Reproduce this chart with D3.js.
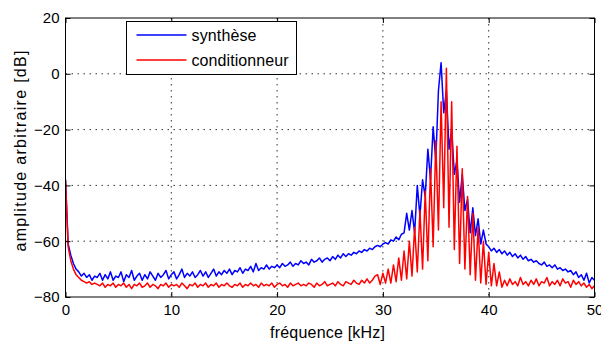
<!DOCTYPE html>
<html>
<head>
<meta charset="utf-8">
<script src="https://cdn.jsdelivr.net/npm/d3@7"></script>
<style>
  html, body { margin: 0; padding: 0; background: #fff; }
  svg { display: block; font-family: "Liberation Sans", Arial, sans-serif; }
</style>
</head>
<body>
<svg id="chart" width="601" height="342"></svg>
<script>
// ---- data (frequency step 0.25 kHz from 0 to 50 kHz) ----
const freqStep = 0.25;
const xTicks = [0, 10, 20, 30, 40, 50];
const yTicks = [-80, -60, -40, -20, 0, 20];
const seriesNames = ["synthèse", "conditionneur"];
const seriesColors = ["#0000ff", "#ff0000"];

const synthese = [
  -38, -61, -65, -68, -70, -71, -72.5, -71.5, -73, -72,
  -74, -72.5, -73, -71.5, -74, -72, -73.5, -71, -74, -72.5,
  -73, -71, -74.5, -72, -73, -70.5, -74, -72.5, -71.5, -74,
  -72, -73.5, -71, -72.5, -74, -71.5, -73, -72, -70.5, -73.5,
  -72, -71, -73.5, -72, -70, -73, -71.5, -72.5, -71, -73,
  -72, -70.5, -72.5, -71, -73, -71.5, -70, -72.5, -71, -72,
  -70.5, -71.5, -70, -72, -70.5, -71, -69.5, -71.5, -70, -70.5,
  -69, -71, -68, -70.5, -69.5, -70, -68.5, -70, -69, -69.5,
  -68.5, -69.5, -68, -69, -68.5, -67.5, -69, -68, -68.5, -67,
  -68, -67.5, -68.5, -66.5, -67.5, -67, -66, -67.5, -66.5, -66,
  -67, -65.5, -66.5, -65, -66, -64.5, -65.5, -64.5, -65, -64,
  -64.5, -63.5, -64, -63, -63.5, -62.5, -63, -62, -61.5, -62,
  -61, -60.5, -61, -59.5, -60, -58.5, -59.5, -57.5, -57, -50,
  -56, -49, -57, -40, -51, -38, -44, -27, -38, -19,
  -31, -6, 4, -14, -6, -27, -20, -36, -31, -46,
  -36, -49, -45, -57, -48, -58, -52, -61, -56, -61,
  -62, -63.5, -62.5, -64, -63, -64.5, -63.5, -65, -64, -65.5,
  -64.5, -66, -65, -66.5, -65.5, -67, -66.5, -67.5, -67, -68,
  -68.5, -67.5, -69, -68.5, -69.5, -68.5, -70, -69.5, -70.5, -70,
  -71, -70.5, -72, -71, -73, -72, -74, -71.5, -75, -73,
  -74
];

const conditionneur = [
  -38, -62, -67, -70, -72, -73, -74, -74.5, -75, -74.5,
  -75.5, -75, -75.5, -76, -75, -76.5, -75.5, -76, -75, -76.5,
  -75.5, -76, -75, -76.5, -75.5, -77, -75.5, -76, -75, -76.5,
  -76, -75, -76.5, -75.5, -76, -77, -75.5, -76, -75, -76.5,
  -75.5, -76, -75.5, -76.5, -75, -76, -77, -75.5, -76, -75,
  -76.5, -75.5, -76, -75, -76.5, -75.5, -76, -75, -76.5, -75.5,
  -76, -75, -76, -76.5, -75.5, -76, -75, -76.5, -75.5, -76,
  -75, -76, -75.5, -76.5, -75, -76, -75.5, -76, -75, -76.5,
  -75.5, -75, -76, -75.5, -76.5, -75, -76, -75.5, -75, -76,
  -75.5, -76, -75, -75.5, -76.5, -75, -76, -75.5, -74.5, -76,
  -75.5, -75, -76, -74.5, -75.5, -76, -74.5, -75, -75.5, -74,
  -75, -75.5, -74, -75, -73.5, -75, -74, -72.5, -72, -75.5,
  -71.5, -75, -70, -75, -68.5, -74.5, -66, -74, -63.5, -73.5,
  -60, -72.5, -55, -71, -49, -70, -42, -67, -34, -62,
  -24, -56, -10, -48, 2, -55, -10, -63, -26, -68,
  -34, -70, -44, -72, -50, -74, -55, -75, -60, -75.5,
  -64, -76, -68, -76, -71, -76.5, -74, -76, -73.5, -75.5,
  -74.5, -76, -73, -75.5, -74.5, -76, -74, -75.5, -73.5, -76,
  -74.5, -75, -73, -76, -74.5, -75.5, -74, -76, -73.5, -75,
  -74.5, -76.5, -74, -75.5, -74.5, -76, -75, -76.5, -75.5, -77,
  -76
];

// ---- layout ----
const svg = d3.select("#chart");
const pLeft = 65.5, pRight = 594.5, pTop = 18, pBottom = 297;
const x = d3.scaleLinear().domain([0, 50]).range([pLeft, pRight]);
const y = d3.scaleLinear().domain([-80, 20]).range([pBottom, pTop]);
const font = 15;

// grid
const grid = svg.append("g").attr("stroke", "#333").attr("stroke-width", 1)
  .attr("stroke-dasharray", "1.5,4.5").attr("fill", "none");
xTicks.filter(t => t > 0 && t < 50).forEach(t => {
  grid.append("line").attr("x1", x(t)).attr("x2", x(t)).attr("y1", pTop).attr("y2", pBottom);
});
yTicks.filter(t => t > -80 && t < 20).forEach(t => {
  grid.append("line").attr("x1", pLeft).attr("x2", pRight).attr("y1", y(t)).attr("y2", y(t));
});

// lines
svg.append("clipPath").attr("id", "clip").append("rect")
  .attr("x", pLeft).attr("y", pTop).attr("width", pRight - pLeft).attr("height", pBottom - pTop);
const line = d3.line().x((d, i) => x(i * freqStep)).y(d => y(d));
[synthese, conditionneur].forEach((s, k) => {
  svg.append("path").datum(s)
    .attr("clip-path", "url(#clip)")
    .attr("fill", "none").attr("stroke", seriesColors[k])
    .attr("stroke-width", 1.5).attr("stroke-linejoin", "round")
    .attr("d", line);
});

// axes
const xAxisB = d3.axisBottom(x).tickValues(xTicks).tickSizeInner(-5).tickSizeOuter(0).tickPadding(7.5);
const xAxisT = d3.axisTop(x).tickValues(xTicks).tickSizeInner(-5).tickSizeOuter(0).tickFormat("");
const yAxisL = d3.axisLeft(y).tickValues(yTicks).tickSizeInner(-5).tickSizeOuter(0).tickPadding(6);
const yAxisR = d3.axisRight(y).tickValues(yTicks).tickSizeInner(-5).tickSizeOuter(0).tickFormat("");

function style(g) {
  g.selectAll(".domain").remove();
  g.selectAll(".tick line").attr("stroke", "#000");
  g.selectAll("text").attr("font-size", font).attr("fill", "#000")
    .attr("font-family", '"Liberation Sans", Arial, sans-serif');
}
svg.append("g").attr("transform", `translate(0,${pBottom})`).call(xAxisB).call(style);
svg.append("g").attr("transform", `translate(0,${pTop})`).call(xAxisT).call(style);
svg.append("g").attr("transform", `translate(${pLeft},0)`).call(yAxisL).call(style);
svg.append("g").attr("transform", `translate(${pRight},0)`).call(yAxisR).call(style);

// frame
svg.append("rect").attr("x", pLeft).attr("y", pTop).attr("width", pRight - pLeft).attr("height", pBottom - pTop)
  .attr("fill", "none").attr("stroke", "#000").attr("stroke-width", 1);

// axis labels
svg.append("text").attr("x", 327.5).attr("y", 338).attr("text-anchor", "middle")
  .attr("font-size", 16).attr("textLength", 115).attr("lengthAdjust", "spacing")
  .text("fréquence [kHz]");
svg.append("text").attr("transform", "translate(26,151) rotate(-90)").attr("text-anchor", "middle")
  .attr("font-size", 16).attr("textLength", 201).attr("lengthAdjust", "spacing")
  .text("amplitude arbitraire [dB]");

// legend
const lg = svg.append("g");
lg.append("rect").attr("x", 126.5).attr("y", 21.5).attr("width", 170).attr("height", 53)
  .attr("fill", "#fff").attr("stroke", "#000").attr("stroke-width", 1);
const legendWidths = [65, 97];
seriesNames.forEach((n, k) => {
  const ly = 35 + k * 25;
  lg.append("line").attr("x1", 136.5).attr("x2", 186.5).attr("y1", ly).attr("y2", ly)
    .attr("stroke", seriesColors[k]).attr("stroke-width", 1.3);
  lg.append("text").attr("x", 191.5).attr("y", ly + 5.5).attr("font-size", 16)
    .attr("textLength", legendWidths[k]).attr("lengthAdjust", "spacing").text(n);
});
</script>
</body>
</html>
